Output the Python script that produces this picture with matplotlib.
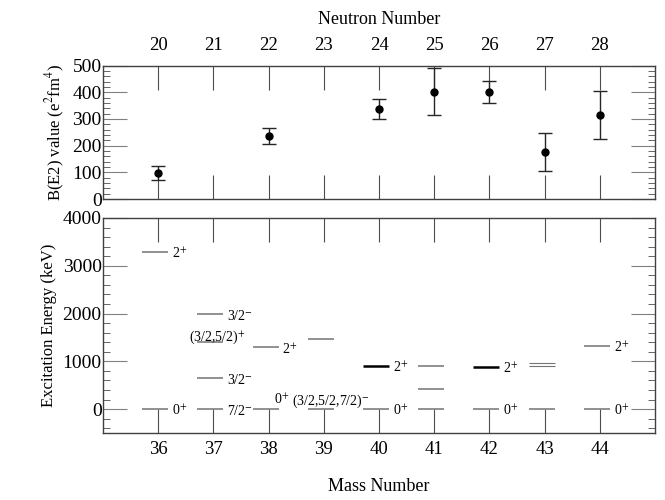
import numpy as np
import matplotlib
matplotlib.use('Agg')
import matplotlib.pyplot as plt
from matplotlib.ticker import MultipleLocator

plt.rcParams['font.family'] = ['Liberation Serif', 'DejaVu Serif']
plt.rcParams['mathtext.fontset'] = 'stix'

# Data
mass = [36, 37, 38, 39, 40, 41, 42, 43, 44]
neutron = [20, 21, 22, 23, 24, 25, 26, 27, 28]

be2_mass = [36, 38, 40, 41, 42, 43, 44]
be2_value = [96, 237, 337, 402, 400, 175, 315]
be2_err_lo = [26, 32, 37, 88, 41, 70, 89]
be2_err_hi = [28, 30, 37, 87, 42, 71, 90]

level_mass = [36, 36, 37, 37, 37, 37, 38, 38, 39, 39, 40, 40, 41, 41, 41, 42, 42, 43, 43, 43, 44, 44]
level_energy = [0, 3291, 0, 646, 1398, 1992, 0, 1292, 0, 1470, 0, 904, 0, 420, 900, 0, 890, 0, 905, 975, 0, 1329]
level_label = ['0$^{+}$', '2$^{+}$', '7/2$^{-}$', '3/2$^{-}$', '(3/2,5/2)$^{+}$', '3/2$^{-}$',
               '0$^{+}$', '2$^{+}$', '(3/2,5/2,7/2)$^{-}$', '', '0$^{+}$', '2$^{+}$', '', '', '',
               '0$^{+}$', '2$^{+}$', '', '', '', '0$^{+}$', '2$^{+}$']

fig = plt.figure(figsize=(6.65, 5), dpi=100)
ax1 = fig.add_axes([0.155, 0.602, 0.830, 0.267])
ax2 = fig.add_axes([0.155, 0.134, 0.830, 0.430])

# Top panel: B(E2) values
ax1.errorbar(be2_mass, be2_value, yerr=[be2_err_lo, be2_err_hi], fmt='o', color='black',
             ms=5, ecolor='0.15', elinewidth=1, capsize=5, capthick=1)
ax1.set_xlim(35, 45)
ax1.set_ylim(0, 500)
ax1.set_ylabel('B(E2) value (e$^2$fm$^4$)', fontsize=12)
ax1.yaxis.set_major_locator(MultipleLocator(100))
ax1.yaxis.set_minor_locator(MultipleLocator(20))
ax1.set_xticks(mass)
ax1.set_xticklabels([str(n) for n in neutron])
ax1.tick_params(axis='x', which='both', top=True, bottom=True, labeltop=True, labelbottom=False,
                direction='in', length=17, color='0.3', labelsize=13.5, pad=8)
ax1.tick_params(axis='y', which='major', left=True, right=True, direction='in', length=17,
                color='0.5', labelsize=14, pad=1)
ax1.tick_params(axis='y', which='minor', left=True, right=True, direction='in', length=5, color='0.3')
ax1.xaxis.set_label_position('top')
ax1.set_xlabel('Neutron Number', fontsize=13, labelpad=10)

# Bottom panel: level scheme
for m, e, lab in zip(level_mass, level_energy, level_label):
    strong = (m in (40, 42)) and e > 0
    thin = m == 43 and e > 0
    ax2.plot([m - 0.29, m + 0.18], [e, e], color='black' if strong else '0.45',
             lw=1.8 if strong else (0.8 if thin else 1.1), solid_capstyle='butt')
    if not lab:
        continue
    if m == 37 and e == 1398:
        ax2.text(m - 0.45, e + 30, lab, fontsize=10, ha='left', va='baseline')
    elif m == 38 and e == 0:
        ax2.text(m + 0.1, e + 100, lab, fontsize=10, ha='left', va='baseline')
    elif m == 39 and e == 0:
        ax2.text(m - 0.58, e + 100, lab, fontsize=10, ha='left', va='baseline')
    else:
        ax2.text(m + 0.25, e - 40, lab, fontsize=10, ha='left', va='center')

ax2.set_xlim(35, 45)
ax2.set_ylim(-500, 4000)
ax2.set_ylabel('Excitation Energy (keV)', fontsize=12)
ax2.set_xlabel('Mass Number', fontsize=13, labelpad=14)
ax2.set_yticks([0, 1000, 2000, 3000, 4000])
ax2.yaxis.set_minor_locator(MultipleLocator(200))
ax2.set_xticks(mass)
ax2.tick_params(axis='x', which='both', top=True, bottom=True, direction='in', length=17,
                color='0.3', labelsize=13.5, pad=6)
ax2.tick_params(axis='y', which='major', left=True, right=True, direction='in', length=17,
                color='0.5', labelsize=14, pad=1)
ax2.tick_params(axis='y', which='minor', left=True, right=True, direction='in', length=5, color='0.3')

for ax in (ax1, ax2):
    for s in ax.spines.values():
        s.set_color('0.25')
        s.set_linewidth(1)

fig.savefig('out.png', dpi=100)
